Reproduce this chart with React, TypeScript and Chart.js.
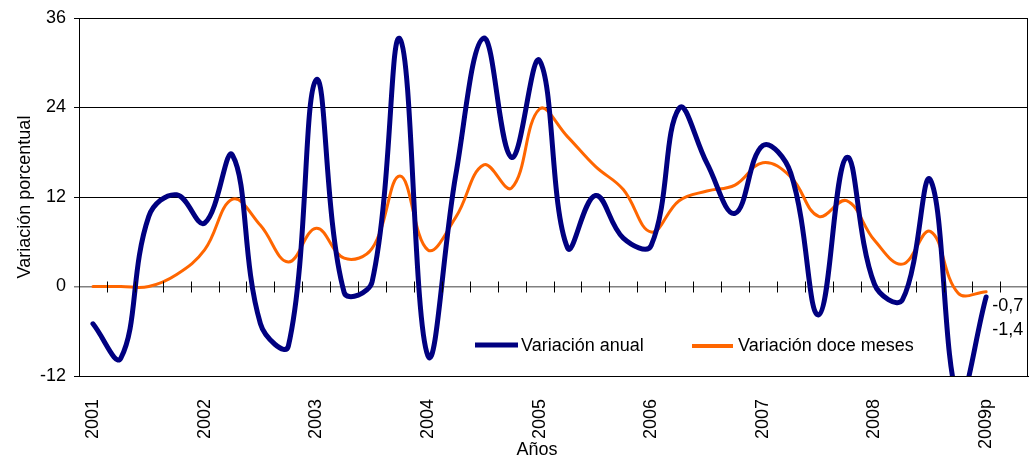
import React, { useEffect, useRef } from "react";
import { Chart, registerables } from "chart.js";

Chart.register(...registerables);

const categories: string[] = [
  "2001", "", "", "",
  "2002", "", "", "",
  "2003", "", "", "",
  "2004", "", "", "",
  "2005", "", "", "",
  "2006", "", "", "",
  "2007", "", "", "",
  "2008", "", "", "",
  "2009p", "",
];

const variacionAnual: (number | null)[] = [
  -5, -9.6, 9.4, 12.3,
  8.5, 17.6, -5, -8,
  27.7, -0.8, 0.6, 33.2,
  -9.3, 15, 33.3, 17.3,
  30.3, 5.2, 12.2, 6.5,
  5.5, 23.9, 16.5, 9.8,
  18.9, 15.2, -3.8, 17.3,
  0.3, -1.8, 14.3, -15,
  -1.4, null,
];

const variacionDoceMeses: (number | null)[] = [
  0, 0, 0, 1.6,
  4.9, 11.7, 8.2, 3.3,
  7.8, 3.8, 5.1, 14.8,
  4.9, 9.3, 16.3, 13.2,
  23.8, 20.1, 16.1, 13.0,
  7.3, 11.5, 12.8, 13.6,
  16.6, 14.7, 9.4, 11.5,
  6.2, 3.0, 7.4, -0.9,
  -0.7, null,
];

const yTicks = { min: -12, max: 36, step: 12 };
const seriesNames = ["Variación anual", "Variación doce meses"];
const axisTitles = { y: "Variación porcentual", x: "Años" };

const FONT = "'Liberation Sans', Arial, sans-serif";

const decorPlugin = {
  id: "decor",
  afterDatasetsDraw(chart: any) {
    const { ctx, chartArea, scales } = chart;
    const xs = scales.x;
    const ys = scales.y;
    ctx.save();
    // border
    ctx.strokeStyle = "#000";
    ctx.lineWidth = 1;
    ctx.strokeRect(
      Math.round(chartArea.left) + 0.5,
      Math.round(chartArea.top) + 0.5,
      Math.round(chartArea.right - chartArea.left) - 1,
      Math.round(chartArea.bottom - chartArea.top)
    );
    // tick marks on zero line at category boundaries
    const y0 = ys.getPixelForValue(0);
    ctx.strokeStyle = "#000";
    ctx.lineWidth = 1;
    const n = categories.length;
    for (let k = 1; k <= n; k++) {
      let bx: number;
      if (k < n) bx = (xs.getPixelForValue(k - 1) + xs.getPixelForValue(k)) / 2;
      else bx = chartArea.right - 1;
      const px = Math.round(bx) + 0.5;
      ctx.beginPath();
      ctx.moveTo(px, y0 - 5);
      ctx.lineTo(px, y0 + 6);
      ctx.stroke();
    }
    // data labels for last values
    const lastIdx = 32;
    const lx = xs.getPixelForValue(lastIdx) + 6;
    ctx.fillStyle = "#000";
    ctx.font = `18px ${FONT}`;
    ctx.textAlign = "left";
    ctx.textBaseline = "middle";
    const vo = variacionDoceMeses[lastIdx] as number;
    const va = variacionAnual[lastIdx] as number;
    ctx.fillText(String(vo).replace(".", ","), lx, ys.getPixelForValue(vo) + 14);
    ctx.fillText(String(va).replace(".", ","), lx, ys.getPixelForValue(va) + 33);

    // legend
    const ly = 345;
    ctx.lineCap = "butt";
    ctx.strokeStyle = "#000080";
    ctx.lineWidth = 5;
    ctx.beginPath();
    ctx.moveTo(475, ly);
    ctx.lineTo(518, ly);
    ctx.stroke();
    ctx.fillText(seriesNames[0], 521, ly + 1);
    ctx.strokeStyle = "#FF6600";
    ctx.lineWidth = 4;
    ctx.beginPath();
    ctx.moveTo(692, ly + 1);
    ctx.lineTo(733, ly + 1);
    ctx.stroke();
    ctx.fillText(seriesNames[1], 738, ly + 1);

    // x title
    ctx.textAlign = "center";
    ctx.fillText(axisTitles.x, 537, 450);
    ctx.restore();
  },
};

export default function App() {
  const ref = useRef<HTMLCanvasElement | null>(null);
  useEffect(() => {
    document.body.style.margin = "0";
    const canvas = ref.current!;
    const chart = new Chart(canvas, {
      type: "line",
      data: {
        labels: categories,
        datasets: [
          {
            label: seriesNames[0],
            data: variacionAnual,
            borderColor: "#000080",
            backgroundColor: "#000080",
            borderWidth: 5,
            pointRadius: 0,
            tension: 0.4,
            borderCapStyle: "round",
            borderJoinStyle: "round",
          },
          {
            label: seriesNames[1],
            data: variacionDoceMeses,
            borderColor: "#FF6600",
            backgroundColor: "#FF6600",
            borderWidth: 3,
            pointRadius: 0,
            tension: 0.4,
            borderCapStyle: "round",
            borderJoinStyle: "round",
          },
        ],
      },
      options: {
        animation: false,
        responsive: false,
        maintainAspectRatio: false,
        layout: { padding: { top: 18, right: 1, left: 0, bottom: 0 } },
        plugins: {
          legend: { display: false },
          tooltip: { enabled: false },
        },
        scales: {
          x: {
            type: "category",
            offset: true,
            grid: { display: false, drawTicks: false },
            border: { display: true, color: "#000", width: 1 },
            ticks: {
              autoSkip: false,
              maxRotation: 90,
              minRotation: 90,
              padding: 23,
              color: "#000",
              font: { family: FONT, size: 18 },
            },
            afterFit(scale: any) {
              scale.height = 83;
              scale.paddingRight = 0;
              scale.paddingLeft = 0;
            },
          },
          y: {
            min: yTicks.min,
            max: yTicks.max,
            ticks: {
              stepSize: yTicks.step,
              color: "#000",
              padding: 8,
              font: { family: FONT, size: 18 },
            },
            grid: {
              color: (c: any) => (c.tick && c.tick.value === 0 ? "#808080" : "#000"),
              lineWidth: (c: any) => (c.tick && c.tick.value === 0 ? 1.5 : 1),
              tickLength: 5,
            },
            border: { display: true, color: "#000", width: 1 },
            title: {
              display: true,
              text: axisTitles.y,
              color: "#000",
              font: { family: FONT, size: 18 },
              padding: { top: 14, bottom: 0 },
            },
            afterFit(scale: any) {
              scale.width = 79;
              scale.paddingTop = 0;
              scale.paddingBottom = 0;
            },
          },
        },
      },
      plugins: [decorPlugin],
    });
    return () => chart.destroy();
  }, []);
  return <canvas ref={ref} width={1029} height={459} style={{ display: "block" }} />;
}
